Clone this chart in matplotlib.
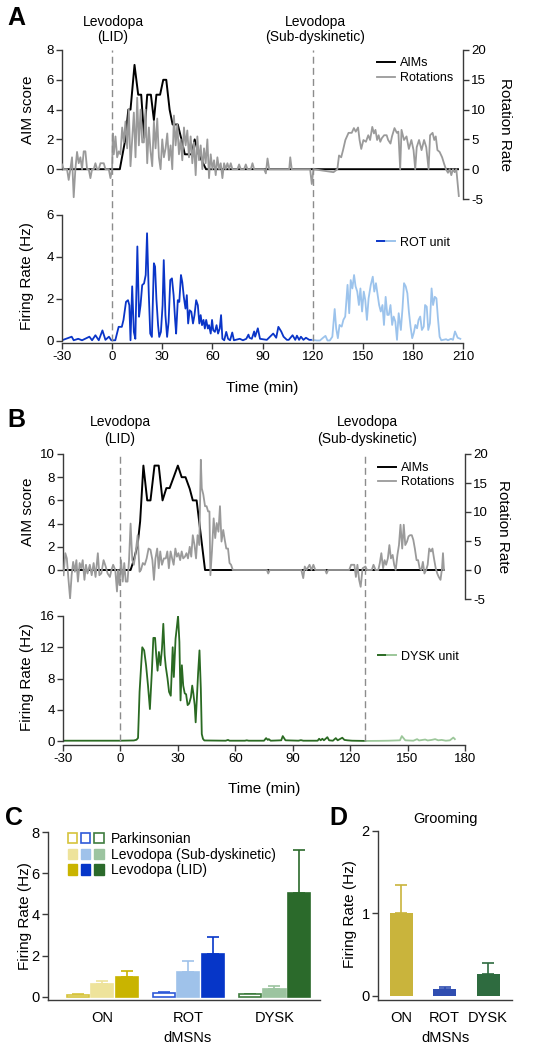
import matplotlib.pyplot as plt
import matplotlib.transforms as mtransforms
from matplotlib.lines import Line2D
from matplotlib.patches import Patch
from matplotlib.legend_handler import HandlerTuple

plt.rcParams['font.family'] = ['Liberation Sans', 'DejaVu Sans']
plt.rcParams['axes.unicode_minus'] = False

W, H = 542, 1050

# ---------------- panel A (time in min, value) ----------------
aim_a = [(-30, 0), (4.6, 0), (7.9, 2), (9.7, 4), (11, 4), (13.4, 7), (15.6, 5), (17.4, 5),
         (19.2, 2.1), (21, 5), (23.2, 5), (25, 3.3), (26.5, 5), (28.7, 5), (30.6, 6), (32.4, 6),
         (34.4, 4), (36.2, 3), (39.3, 3), (41.5, 2), (43.5, 1), (47.6, 1), (49.4, 2), (51.8, 1),
         (56.2, 0), (207, 0)]

rot_a = [(-30, 0.8), (-29, 0), (-27, 0), (-26, -1.8), (-25, 0), (-24, 2), (-23, -4.7), (-22, 0),
         (-21, 2.9), (-20, 1), (-19, 2), (-18, 0), (-17, 3), (-16, 3), (-15, 0), (-14, 0),
         (-13, -1.5), (-12, 0), (-11, 0), (-10, 1), (-9, 0), (-8, 0), (-7, 1), (-6, 1), (-5, 1),
         (-4, 0), (-2, 0), (-1, -1.5), (0, 0), (0.4, 6), (1, 2.5), (2, 5.5), (3, 2), (4, 3),
         (5, 2.5), (6, 7), (7, 4.5), (8, 8), (9, 3.5), (10, 10), (11, 0.5), (12, 5), (13, 9.5),
         (14, 2), (15, 12), (16, 4), (17, 10), (18, 4.5), (19, 4.5), (20, 10), (21, 1), (22, 7),
         (23, 3), (24, 0.5), (25, 8), (26, 3.5), (27, 8.5), (28, 2), (29, 0), (30, 5), (31, 2),
         (32, 3.5), (33, 6), (34, 1.5), (35, 4), (36, 0), (37, 9), (38, 4), (39, 7.5), (40, 2.5),
         (41, 5), (42, 1.5), (43, 7), (44, 4), (45, 6.5), (46, 2), (47, 5.5), (48, 1), (49, 4.5),
         (50, -1), (51, 5.5), (52, 1.5), (53, 4), (54, 0), (55, 3.5), (56, 1), (57, 5), (58, -1.5),
         (59, 2.5), (60, 0), (61, 1.5), (62, -1), (63, 2), (64, 0), (65, 1), (66, -1.5), (67, 1),
         (68, 0), (69, 1), (70, 0), (71, 1), (72, 0), (75, 0), (76, 0.8), (77, 0), (79, 0),
         (80, 0.8), (81, 0), (83, 0), (84, 1), (85, 0), (91, 0), (92, -0.7), (93, 1.8), (94, 0),
         (106, 0), (106.6, 2), (107.5, 0), (118.5, 0), (119.5, -2.5), (120.5, 0), (132.5, -0.5),
         (134.8, 0), (135.8, 2.3), (137.1, 2), (138.2, 3.2), (139.6, 4.9), (141.5, 6.1),
         (143.4, 6.1), (144.7, 6.9), (145.8, 6.3), (147.2, 7), (148.1, 4.9), (149.1, 3.4),
         (150.4, 4.9), (151.9, 4.6), (153.3, 5.7), (154.4, 4.9), (155.7, 7.1), (156.7, 6),
         (157.6, 6.6), (158.6, 4.9), (159.5, 5.7), (160.5, 4.6), (161.4, 5.2), (162.8, 5.7),
         (164.3, 5.7), (165.2, 4.9), (166.6, 4.3), (167.5, 5.5), (169, 6.9), (170.4, 6.1),
         (171.3, 6.3), (172.4, 0), (173.2, 6.6), (174.7, 4.9), (176.2, 5.5), (177.6, 3.4),
         (179.1, 4.9), (180.4, 3.2), (181.4, 0), (182.3, 3.7), (183.7, 4.9), (185.2, 3.2),
         (186.7, 4.9), (188, 3.7), (189.4, 0), (190.3, 5.7), (191.8, 6.1), (192.8, 4.9),
         (193.7, 5.5), (194.7, 3.2), (196, 2.9), (197.5, 2), (198.7, 0.9), (199.8, 0),
         (201, -0.6), (202, 0), (203, -1), (204, 0), (205, -0.5), (206, 0), (207.5, -4.5)]

rot_unit_lid = [(-30, 0.03), (-24.2, 0.2), (-23, 0.03), (-20.3, 0.1), (-18, 0.03), (-13.6, 0.2),
                (-12, 0.03), (-10, 0.27), (-8, 0.03), (-5.8, 0.5), (-4, 0.05), (-1.9, 0.2),
                (-0.5, 0.03), (1.9, 0.03), (3.9, 0.67), (5.8, 0.67), (6.8, 1.0), (8.3, 1.86),
                (9.5, 1.94), (10.3, 1.7), (11, 0.03), (12, 2.6), (13, 0.43), (13.9, 0.1),
                (15.1, 4.5), (16.1, 1.15), (17, 1.7), (18, 2.66), (19.1, 2.74), (20.1, 3.14),
                (20.9, 5.13), (21.9, 2.34), (22.8, 0.35), (23.8, 0.19), (25, 3.7), (25.7, 3.54),
                (26.5, 2.0), (27.5, 0.75), (28.2, 0.19), (29.2, 0.43), (30.2, 1.7), (30.9, 3.85),
                (31.9, 1.23), (32.9, 0.19), (33.8, 0.9), (34.8, 2.9), (35.8, 2.98), (36.8, 2.18),
                (37.7, 1.0), (38.3, 0.35), (39.3, 1.94), (40.2, 1.86), (41.2, 3.14), (42, 2.8),
                (42.9, 2.1), (43.9, 1.54), (44.7, 2.18), (45.5, 0.83), (46.4, 1.46), (47.4, 1.39),
                (48.4, 0.83), (49.3, 1.23), (50.3, 1.94), (51.3, 1.7), (52.2, 0.83), (53, 1.23),
                (53.8, 0.75), (54.7, 1.0), (55.5, 0.59), (56.3, 1.0), (57.3, 0.59), (58, 0.75),
                (59, 0.35), (59.8, 1.0), (60.5, 0.51), (61.5, 0.43), (62.5, 0.75), (63.4, 0.35),
                (64.4, 0.59), (65.2, 1.23), (66, 0.1), (67.1, 0.03), (68.3, 0.43), (69.4, 0.1),
                (70.6, 0.03), (71.9, 0.4), (72.9, 0.03), (76.4, 0.1), (78.3, 0.03), (80.3, 0.1),
                (81.6, 0.3), (82.2, 0.15), (83.6, 0.1), (85, 0.45), (85.6, 0.2), (87.2, 0.6),
                (88.5, 0.1), (92.6, 0.05), (96.4, 0.35), (98.2, 0.15), (99.5, 0.67),
                (101.2, 0.45), (102.6, 0.2), (104.6, 0.05), (105.7, 0.05), (108, 0.27),
                (109.6, 0.05), (110.6, 0.25), (111.9, 0.05), (113, 0.2), (114.5, 0.05),
                (116, 0.15), (118, 0.05), (120, 0.05)]

rot_unit_sub = [(120, 0.05), (122.5, 0.02), (124.4, 0.02), (126.4, 0.16), (127.7, 0.24),
                (128.9, 0.02), (130.3, 0.02), (131.8, 0.2), (133.2, 1.52), (134.1, 0.6),
                (135.1, 0.13), (136.1, 0.76), (137.4, 0.68), (138.4, 1.0), (139.5, 1.16),
                (140.9, 2.67), (141.9, 1.32), (142.8, 2.9), (143.8, 2.5), (144.8, 3.14),
                (145.7, 2.6), (146.7, 2.35), (147.7, 1.71), (148.6, 2.5), (149.6, 1.4),
                (150.6, 2.35), (151.5, 1.95), (152.5, 1.0), (153.5, 2.03), (154.8, 2.67),
                (156, 3.06), (156.9, 2.35), (157.9, 2.75), (158.9, 2.2), (159.8, 1.71),
                (160.8, 1.4), (161.8, 1.71), (162.7, 0.76), (163.7, 2.1), (164.7, 1.24),
                (165.6, 1.24), (166.6, 1.71), (167.6, 0.76), (168.5, 1.16), (169.5, 0.92),
                (170.5, 0.05), (171.5, 1.32), (172.8, 0.52), (173.8, 1.56), (174.7, 2.75),
                (175.7, 2.6), (176.7, 2.27), (177.6, 1.4), (178.6, 0.68), (179.6, 0.13),
                (180.5, 0.37), (181.5, 0.76), (182.5, 0.6), (183.4, 1.0), (184.4, 1.16),
                (185.4, 0.52), (186.5, 0.68), (187.3, 1.71), (188.3, 1.63), (189.2, 0.52),
                (190.2, 0.84), (191.2, 2.5), (192.1, 1.71), (193.1, 2.1), (194.1, 2.03),
                (195, 1.08), (196, 0.2), (197, 0.03), (199.9, 0.08), (201, 0.03), (202.8, 0.1),
                (204, 0.05), (205.2, 0.45), (206.8, 0.15), (208.4, 0.1)]

# ---------------- panel B ----------------
aim_b = [(-30, 0), (5.3, 0), (7, 0.86), (9, 2.2), (10.3, 4.2), (12, 9), (14, 6), (15.7, 6),
         (17.8, 9), (20, 9), (22, 6), (24, 7.06), (25.7, 7.06), (27.8, 8), (30, 9), (32, 8),
         (34, 8), (36.2, 7), (37.8, 6), (39.8, 6), (42, 3), (44.2, 0), (169, 0)]

rot_b = [(-29.7, -0.9), (-28.8, 2.9), (-28, 2), (-27.2, -1.4), (-26.3, -4.9), (-25.5, -0.9),
         (-24.7, 1.4), (-23.8, -0.3), (-23, 1.7), (-22.2, -2), (-21.3, 1.2), (-20.5, 0.3),
         (-19.7, 1.7), (-18.8, -1.7), (-18, 0.9), (-17.2, -0.6), (-16, 0.9), (-15, -0.9),
         (-14, 1.2), (-13, -1.2), (-11.8, 2.9), (-11, -0.9), (-10, -0.6), (-8.8, 1.7),
         (-7.7, 0.6), (-6.7, -0.6), (-5.5, -1.2), (-4.7, 0), (-3.8, 0.9), (-2.7, 0),
         (-1.8, -3.7), (-1.3, 0), (-0.5, -2.6), (0.3, 1.7), (1.2, -2), (2, 1.2), (2.8, -2),
         (3.7, -2), (4.5, 1.7), (5.3, 8), (6.2, 1.7), (7, 0.9), (7.8, 2.6), (9, 6), (10, -0.3),
         (10.7, 0), (11.7, 1.2), (12.7, 0.9), (13.7, 2), (14.7, 3.7), (15.7, 3.5), (16.7, 1.7),
         (17.5, -1.7), (18.3, 2), (19.2, 3.7), (20, 0.3), (20.8, 3.2), (21.7, 0.9), (22.7, 2),
         (23.7, 2), (24.5, 3.2), (25.3, 0.3), (26.2, 3.2), (27, 2), (27.8, 0.9), (28.7, 3.7),
         (29.5, 2.3), (30.3, 2.9), (31.2, 1.7), (32, 3.2), (32.8, 2), (33.7, 2.3), (34.5, 2.9),
         (35.3, 2), (36.2, 4), (37, 2.3), (37.8, 6), (38.7, 4.3), (39.5, 2), (40.3, 6),
         (41.2, 4.3), (42, 19), (42.5, 14.1), (43.3, 13), (44.2, 11), (45, 11), (45.8, 10.1),
         (46.5, 10.1), (47, -0.9), (47.8, 3.2), (48.7, 8.9), (49.5, 5.5), (50.3, 8.1),
         (51.2, 6.6), (52, 11), (52.8, 4.9), (53.7, 6.9), (54.5, 5.2), (55.3, 3.7), (56.2, 3.7),
         (57, 1.2), (57.8, 0.9), (58.7, 0), (76.5, 0), (77.2, -0.6), (78, 0), (94.5, 0),
         (95.5, -1.4), (96.3, 0.6), (97.2, 0), (98.8, 0.9), (99.8, 0), (100.8, 0.9), (101.8, 0),
         (107, 0), (107.7, -0.6), (108.5, 0), (119.5, 0), (120.5, 0.9), (122.2, 0.9),
         (123, -1.2), (123.8, 0.9), (124.7, -1.7), (125.5, -2.9), (126.5, 0.3), (128, 0.6),
         (128.8, 0), (131.3, 0), (132.2, 0.9), (133.3, 0), (134.7, 0), (135.5, 1.2),
         (136.3, 2.9), (137.2, 0.3), (138, 1.7), (138.8, 0.9), (139.7, 2), (140.5, 4.3),
         (141.3, 2), (142.2, 2.6), (143, 0.9), (143.8, 0), (144.7, 2.6), (145.5, 4.3),
         (146.3, 7.8), (147.2, 3.7), (148, 7.8), (148.8, 4.3), (149.7, 4.9), (150.5, 5.8),
         (151.3, 6), (152.2, 6), (153, 5.2), (153.8, 3.7), (154.7, 1.7), (155.5, 1.7),
         (156.3, 0.3), (157.2, 0), (158, 1.4), (158.8, -0.6), (159.7, 0), (160.5, 0.9),
         (161.3, 3.7), (162.2, 3.2), (163, 3.7), (163.8, 2), (164.7, 0.3), (165.5, -0.6),
         (166.3, -1.2), (167.2, -1.7), (168, 0.3), (168.5, 2.9), (169, 0)]

dysk_unit_lid = [(-30, 0.05), (0, 0.05), (7, 0.08), (8.4, 0.17), (9.2, 0.4), (10, 6.3),
                 (11.4, 12), (12.4, 11.6), (13.4, 9.7), (14.4, 7.1), (15.4, 4.1), (16.4, 8.8),
                 (17.2, 13.2), (18.1, 13.2), (18.7, 11), (19.4, 9), (20.1, 11.4), (20.9, 9.7),
                 (21.7, 11.8), (22.4, 15), (23.1, 11), (23.7, 9.5), (24.6, 8), (25.4, 6.3),
                 (26.3, 5.8), (27.3, 12), (27.9, 8.2), (28.8, 13.1), (29.4, 14.4), (30.1, 16),
                 (30.8, 12.7), (31.4, 5.2), (32.1, 9.7), (32.8, 7.1), (33.6, 6.1), (34.3, 6),
                 (35.1, 4.6), (35.9, 4.8), (36.8, 5.6), (37.5, 7.1), (38.1, 6.1), (38.8, 4.6),
                 (39.3, 2.4), (40, 5.8), (40.6, 8.8), (41.3, 11.6), (42, 6.7), (42.5, 0.9),
                 (43.1, 0.3), (43.8, 0.08), (55, 0.05), (56.2, 0.15), (57, 0.05), (65, 0.05),
                 (66, 0.1), (67, 0.05), (75, 0.05), (76.1, 0.38), (77, 0.15), (77.5, 0.25),
                 (78.5, 0.05), (84, 0.1), (84.8, 0.64), (86.2, 0.1), (93, 0.05), (94.3, 0.12),
                 (95.5, 0.05), (103, 0.05), (103.8, 0.3), (104.6, 0.1), (105.5, 0.3),
                 (106.3, 0.1), (108.1, 0.5), (109, 0.1), (111, 0.05), (112.5, 0.38),
                 (113.5, 0.1), (115.9, 0.43), (117, 0.15), (118.5, 0.1), (121, 0.05), (128, 0.02)]

dysk_unit_sub = [(128, 0.02), (135, 0.03), (140.1, 0.05), (146, 0.1), (147, 0.64), (148.8, 0.1),
                 (153, 0.05), (155, 0.25), (156, 0.08), (159.2, 0.2), (160.5, 0.08),
                 (162.6, 0.15), (164.4, 0.25), (166, 0.1), (167.8, 0.15), (170, 0.05),
                 (172.1, 0.1), (173.9, 0.45), (174.7, 0.25)]

# ---------------- panels C and D ----------------
groups = ['ON', 'ROT', 'DYSK']
conditions = ['Parkinsonian', 'Levodopa (Sub-dyskinetic)', 'Levodopa (LID)']
park_mean = [0.11, 0.21, 0.13]
park_err = [0.05, 0.05, 0.03]
sub_mean = [0.61, 1.21, 0.37]
sub_err = [0.17, 0.52, 0.16]
lid_mean = [0.97, 2.07, 5.06]
lid_err = [0.27, 0.82, 2.06]
groom_mean = [1.0, 0.08, 0.27]
groom_err = [0.34, 0.03, 0.13]

AXC = '#3a3a3a'
GRAY = '#9a9a9a'
DASH = '#8c8c8c'
dark_cols = ['#c9b400', '#0636c8', '#2b6a2b']
light_cols = ['#eee39b', '#9fc2ea', '#9cc4a0']
edge_cols = ['#d6c33c', '#2f5ad8', '#3f7d3f']
groom_cols = ['#c9b43c', '#2f4db0', '#2e6b3f']

fig = plt.figure(figsize=(W / 100, H / 100), dpi=100)


def add_ax(x0, y0, x1, y1):
    return fig.add_axes([x0 / W, 1 - y1 / H, (x1 - x0) / W, (y1 - y0) / H])


def ftext(x, y, s, **kw):
    kw.setdefault('ha', 'center')
    kw.setdefault('va', 'center')
    fig.text(x / W, 1 - y / H, s, **kw)


def style(ax, size=9.5):
    for sp in ax.spines.values():
        sp.set_color(AXC)
        sp.set_linewidth(1)
    ax.spines['top'].set_visible(False)
    ax.tick_params(colors=AXC, labelcolor='black', labelsize=size, length=4, width=1, pad=2)
    ax.patch.set_alpha(0)


def behaviour_panel(box, aim, rot, aim_max, xmax, leg_xy):
    ax = add_ax(*box)
    style(ax)
    ax.set_xlim(-30, xmax)
    ax.set_ylim(-aim_max / 4, aim_max)
    ax.set_yticks(range(0, aim_max + 1, 2))
    ax.set_xticks([])
    ax.spines['right'].set_visible(False)
    ax.spines['bottom'].set_visible(False)
    ax.spines['left'].set_bounds(0, aim_max)
    t, v = zip(*aim)
    ax.plot(t, v, color='black', lw=1.4)
    ax2 = ax.twinx()
    style(ax2)
    ax2.set_ylim(-5, 20)
    ax2.set_yticks([-5, 0, 5, 10, 15, 20])
    ax2.set_xticks([])
    ax2.spines['left'].set_visible(False)
    ax2.spines['bottom'].set_visible(False)
    ax2.spines['right'].set_bounds(-5, 20)
    t, v = zip(*rot)
    ax2.plot(t, v, color=GRAY, lw=1.3)
    ax2.legend([Line2D([], [], color='black', lw=1.4), Line2D([], [], color=GRAY, lw=1.3)],
               ['AIMs', 'Rotations'], loc='upper left', bbox_to_anchor=leg_xy, frameon=False,
               fontsize=9, handlelength=1.4, handletextpad=0.4, labelspacing=0.2,
               borderpad=0, borderaxespad=0)
    return ax


def unit_panel(box, lid, sub, dark, light, ylim, yticks, xmax, name, leg_xy):
    ax = add_ax(*box)
    style(ax)
    ax.spines['right'].set_visible(False)
    t, v = zip(*lid)
    ax.plot(t, v, color=dark, lw=1.3)
    t, v = zip(*sub)
    ax.plot(t, v, color=light, lw=1.3)
    ax.set_xlim(-30, xmax)
    ax.set_ylim(*ylim)
    ax.set_yticks(yticks)
    ax.spines['left'].set_bounds(0, ylim[1])
    ax.set_xticks(range(-30, xmax + 1, 30))
    handle = (Line2D([], [], color=dark, lw=1.4), Line2D([], [], color=light, lw=1.4))
    ax.legend([handle], [name], handler_map={tuple: HandlerTuple(ndivide=None, pad=0)},
              loc='upper left', bbox_to_anchor=leg_xy, frameon=False, fontsize=9,
              handlelength=1.4, handletextpad=0.4, borderpad=0, borderaxespad=0)
    return ax


def dose_lines(ax_top, ax_bot, times):
    trans = mtransforms.blended_transform_factory(ax_bot.transData, fig.transFigure)
    y_top = ax_top.get_position().y1
    y_bot = fig.transFigure.inverted().transform(ax_bot.transData.transform((0, 0)))[1]
    for t in times:
        fig.add_artist(Line2D([t, t], [y_bot, y_top], transform=trans, color=DASH,
                              lw=1, dashes=(5, 3)))


# ----- A -----
axA1 = behaviour_panel((62, 50, 463, 199), aim_a, rot_a, 8, 210, (0.786, 0.95))
axA2 = unit_panel((62, 215, 463, 343), rot_unit_lid, rot_unit_sub, '#0a35c8', '#9cc3ec',
                  (-0.1, 6), [0, 2, 4, 6], 210, 'ROT unit', (0.786, 0.83))
dose_lines(axA1, axA2, [0, 120])

# ----- B -----
axB1 = behaviour_panel((63, 454, 465, 599), aim_b, rot_b, 10, 180, (0.784, 0.945))
axB2 = unit_panel((63, 616, 465, 745), dysk_unit_lid, dysk_unit_sub, '#2a6a22', '#9cc79a',
                  (-0.5, 16), [0, 4, 8, 12, 16], 180, 'DYSK unit', (0.784, 0.73))
dose_lines(axB1, axB2, [0, 128])

# ----- C -----
axC = add_ax(48, 832, 320, 1000)
style(axC, 10.5)
axC.spines['right'].set_visible(False)
xs = range(len(groups))
offsets = [-0.285, 0, 0.285]
bw = 0.26
for k, (means, errs) in enumerate([(park_mean, park_err), (sub_mean, sub_err),
                                   (lid_mean, lid_err)]):
    for g in xs:
        x = g + offsets[k]
        if k == 0:
            fc, ec, errc = 'white', edge_cols[g], edge_cols[g]
        elif k == 1:
            fc, ec, errc = light_cols[g], light_cols[g], light_cols[g]
        else:
            fc, ec, errc = dark_cols[g], dark_cols[g], dark_cols[g]
        axC.bar(x, means[g], width=bw, color=fc, edgecolor=ec, lw=1.2, zorder=2)
        axC.errorbar(x, means[g], yerr=[[0], [errs[g]]], fmt='none', ecolor=errc,
                     elinewidth=1.2, capsize=4, capthick=1.2, zorder=1)
axC.set_xlim(-0.63, 2.53)
axC.set_ylim(-0.15, 8)
axC.set_yticks([0, 2, 4, 6, 8])
axC.set_xticks(list(xs))
axC.set_xticklabels(groups)
axC.tick_params(axis='x', length=0, pad=8)
leg_handles = [
    tuple(Patch(facecolor='white', edgecolor=c, lw=1.2) for c in edge_cols),
    tuple(Patch(facecolor=c, edgecolor=c) for c in light_cols),
    tuple(Patch(facecolor=c, edgecolor=c) for c in dark_cols),
]
axC.legend(leg_handles, conditions, handler_map={tuple: HandlerTuple(ndivide=None, pad=0.3)},
           loc='upper left', bbox_to_anchor=(0.072, 1.0), frameon=False, fontsize=10,
           handlelength=2.6, handleheight=0.75, handletextpad=0.55, labelspacing=0.12,
           borderpad=0, borderaxespad=0)

# ----- D -----
axD = add_ax(378, 831, 512, 1000)
style(axD, 10.5)
axD.spines['right'].set_visible(False)
for g in xs:
    axD.bar(g, groom_mean[g], width=0.53, color=groom_cols[g], zorder=2)
    axD.errorbar(g, groom_mean[g], yerr=[[0], [groom_err[g]]], fmt='none',
                 ecolor=groom_cols[g], elinewidth=1.2, capsize=4, capthick=1.2, zorder=1)
axD.set_xlim(-0.53, 2.55)
axD.set_ylim(-0.05, 2)
axD.set_yticks([0, 1, 2])
axD.set_xticks(list(xs))
axD.set_xticklabels(groups)
axD.tick_params(axis='x', length=0, pad=8)

# ----- text -----
lab = dict(fontsize=11)
ftext(28, 110, 'AIM score', rotation=90, **lab)
ftext(505, 125, 'Rotation Rate', rotation=270, **lab)
ftext(27, 276, 'Firing Rate (Hz)', rotation=90, **lab)
ftext(262, 388, 'Time (min)', **lab)
ftext(28, 512, 'AIM score', rotation=90, **lab)
ftext(503, 527, 'Rotation Rate', rotation=270, **lab)
ftext(27, 677, 'Firing Rate (Hz)', rotation=90, **lab)
ftext(264, 789, 'Time (min)', **lab)
ftext(25, 916, 'Firing Rate (Hz)', rotation=90, **lab)
ftext(188, 1038, 'dMSNs', fontsize=10.5)
ftext(350, 914, 'Firing Rate (Hz)', rotation=90, **lab)
ftext(445, 1038, 'dMSNs', fontsize=10.5)
ftext(445, 819, 'Grooming', fontsize=10.5)

ftext(113, 22, 'Levodopa', fontsize=10)
ftext(113, 37, '(LID)', fontsize=10)
ftext(315, 22, 'Levodopa', fontsize=10)
ftext(315, 37, '(Sub-dyskinetic)', fontsize=10)
ftext(120, 422, 'Levodopa', fontsize=10)
ftext(120, 439, '(LID)', fontsize=10)
ftext(367, 422, 'Levodopa', fontsize=10)
ftext(367, 439, '(Sub-dyskinetic)', fontsize=10)

letter = dict(fontsize=18, fontweight='bold')
ftext(16, 18, 'A', **letter)
ftext(16, 420, 'B', **letter)
ftext(14, 818, 'C', **letter)
ftext(338, 818, 'D', **letter)

fig.savefig('out.png', dpi=100)
